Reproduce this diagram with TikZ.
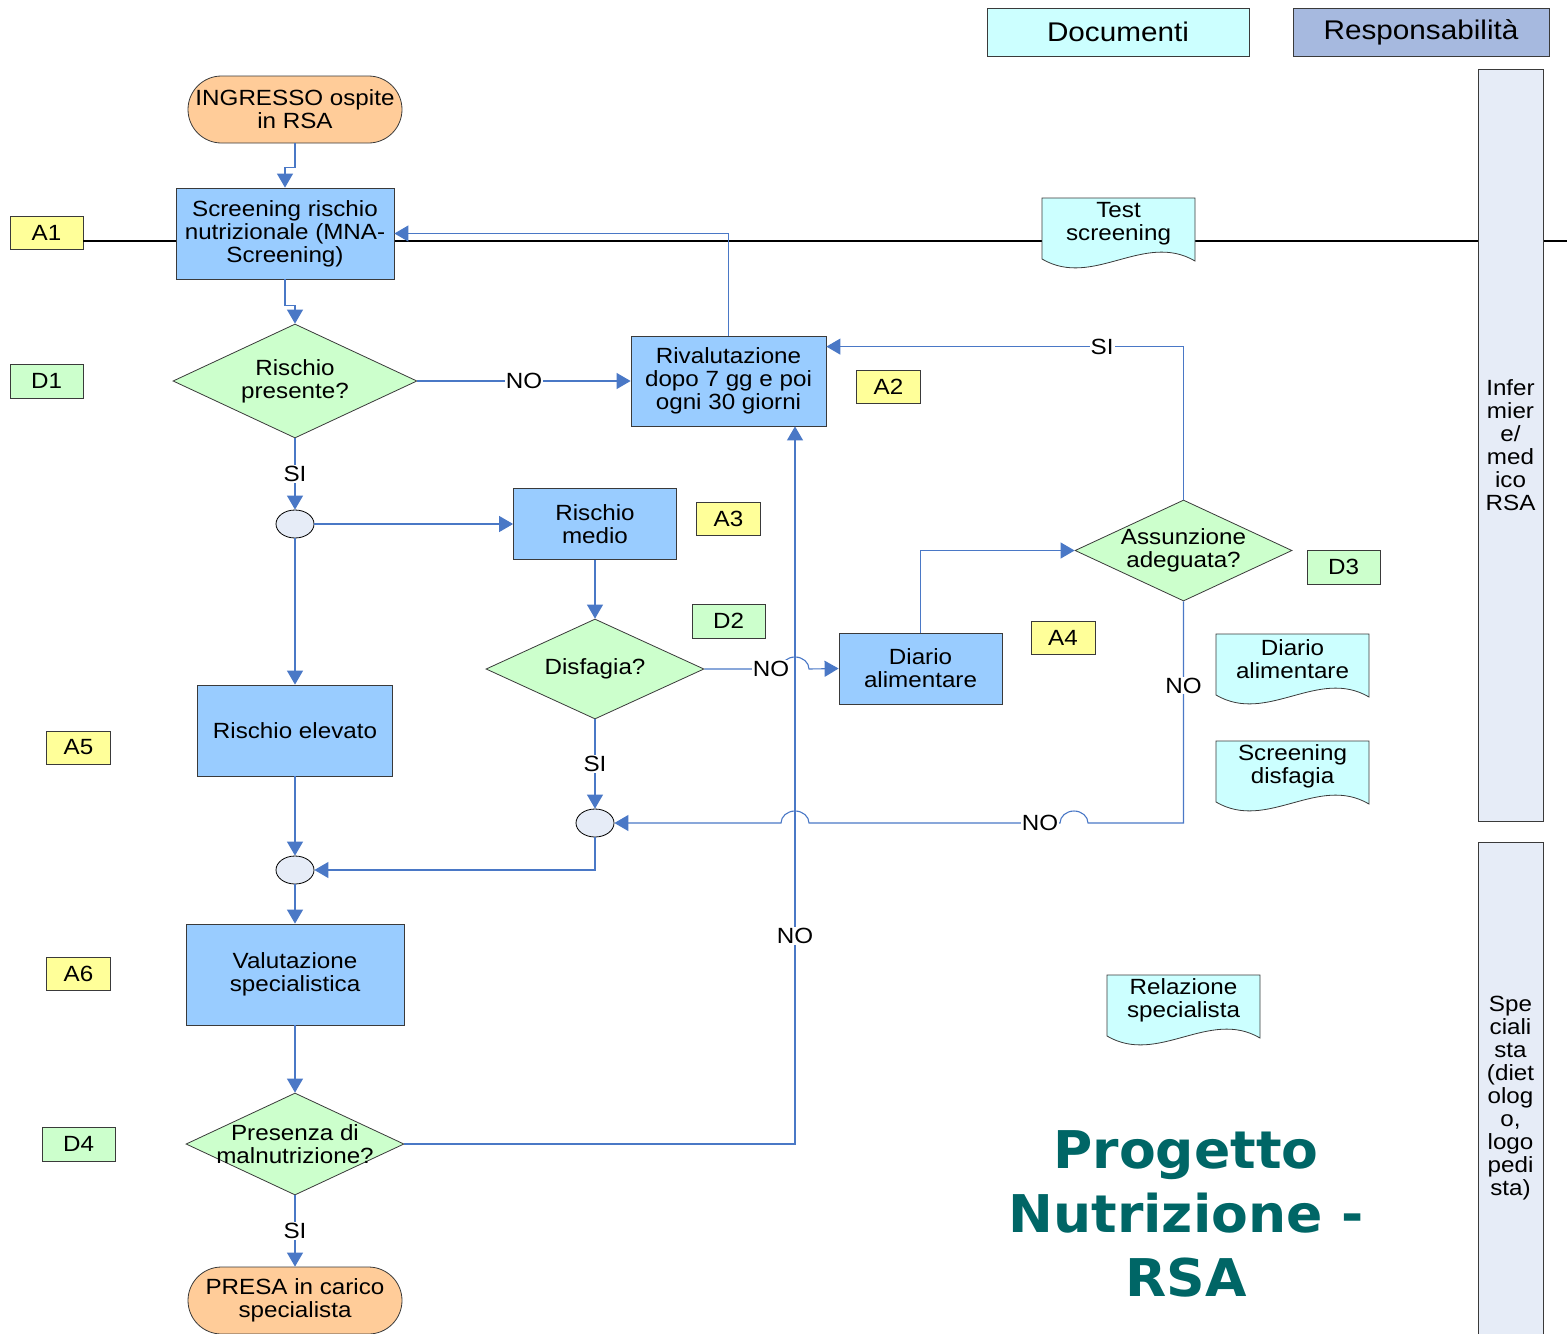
\documentclass[tikz,border=0pt]{standalone}
\usepackage{fontspec}
\setmainfont{Liberation Sans}[FakeStretch=1.1]
\newfontfamily\titlefont{DejaVu Sans}[FakeStretch=1.03]
\usetikzlibrary{shapes.geometric,shapes.misc,arrows.meta}
\definecolor{procblue}{HTML}{99CCFF}
\definecolor{termorange}{HTML}{FFCC99}
\definecolor{decgreen}{HTML}{CCFFCC}
\definecolor{tagyellow}{HTML}{FFFF99}
\definecolor{docfill}{HTML}{CCFFFF}
\definecolor{respblue}{HTML}{A6B9DF}
\definecolor{lanefill}{HTML}{E6ECF7}
\definecolor{flowblue}{HTML}{4A78C6}
\definecolor{titlegreen}{HTML}{006666}
\definecolor{boxline}{HTML}{3A3A3A}
\tikzset{
  % style for the text in every box
  txt/.style={font=\fontsize{11}{11.5}\selectfont, align=center},
  % style for the shapes of the flow chart
  proc/.style={txt, rectangle, draw=boxline, fill=procblue, inner sep=1pt},
  term/.style={txt, rounded rectangle, draw=boxline, fill=termorange,
    minimum width=109pt, minimum height=33.5pt, inner sep=1pt},
  decision/.style={diamond, draw=boxline, fill=decgreen, inner sep=0pt},
  junc/.style={ellipse, draw=black, fill=lanefill, minimum width=19pt,
    minimum height=14pt, inner sep=0pt},
  % style for the small tags on the side
  tagA/.style={txt, draw=boxline, fill=tagyellow, minimum width=32pt, minimum height=16.5pt, inner sep=1pt},
  tagD/.style={txt, draw=boxline, fill=decgreen, minimum width=36.5pt, minimum height=17pt, inner sep=1pt},
  % style for the documents and the lanes
  doctext/.style={txt, inner sep=0pt},
  docline/.style={draw=boxline, fill=docfill, line width=0.4pt},
  lane/.style={txt, draw=boxline, fill=lanefill, minimum width=32.5pt, inner sep=1pt},
  head/.style={font=\fontsize{13.5}{16}\selectfont, draw=boxline, minimum height=24pt},
  % style for the connectors and their labels
  flow/.style={draw=flowblue, line width=0.55pt, -{Triangle[length=7pt,width=8pt]}},
  edgelab/.style={txt, fill=white, inner sep=0.5pt},
}
% document shape with a wavy bottom
\newcommand{\docnode}[3]{%
  \draw[docline, shift={#2}] (-76.5,-25.5) -- (76.5,-25.5) -- (76.5,37.5)
    .. controls (25.5,7.5) and (-25.5,65.5) .. (-76.5,35.5) -- cycle;
  \node[doctext] (#1) at #2 {#3};
}

\begin{document}
\begin{tikzpicture}[x=0.5pt,y=-0.5pt]
\useasboundingbox (0,0) rectangle (1567,1333);

\node[tagA, minimum width=36.5pt] (a1) at (46.5,233) {A1};
\coordinate (lineend) at (1567,241);
\draw[black, line width=1pt] (a1.east |- lineend) -- (lineend);

% headers and lanes
\node[head, fill=docfill, minimum width=131pt] (hdoc) at (1118,32) {Documenti};
\node[head, fill=respblue, minimum width=128pt] (hresp) at (1421,32) {Responsabilità};
\node[lane, minimum height=376pt] (lane1) at (1510.5,445) {Infer\\mier\\e/\\med\\ico\\RSA};
\node[lane, minimum height=256.5pt] (lane2) at (1510.5,1098.5) {Spe\\ciali\\sta\\(diet\\olog\\o,\\logo\\pedi\\sta)};

% flow chart
\node[term] (start) at (295,109.5) {INGRESSO ospite\\in RSA};
\node[proc, minimum width=109pt, minimum height=45.5pt] (scr) at (285,233.5) {Screening rischio\\nutrizionale (MNA-\\Screening)};
\node[decision, minimum width=122pt, minimum height=57pt, label={[txt]center:Rischio\\presente?}] (d1) at (295,381) {};
\node[tagD] (dd1) at (46.5,381) {D1};
\node[proc, minimum width=97.5pt, minimum height=45pt] (riv) at (728.5,381) {Rivalutazione\\dopo 7 gg e poi\\ogni 30 giorni};
\node[tagA] (a2) at (888.5,386.5) {A2};
\node[junc] (j1) at (295,524) {};
\node[proc, minimum width=81.5pt, minimum height=35.5pt] (rm) at (595,524) {Rischio\\medio};
\node[tagA] (a3) at (728.5,518.5) {A3};
\node[tagD] (dd2) at (728.5,621) {D2};
\node[decision, minimum width=109pt, minimum height=50pt, label={[txt]center:Disfagia?}] (dis) at (595,669) {};
\node[proc, minimum width=81.5pt, minimum height=35.5pt] (dia) at (920.5,668.5) {Diario\\alimentare};
\node[tagA] (a4) at (1063,638) {A4};
\node[decision, minimum width=108.5pt, minimum height=50.5pt, label={[txt]center:Assunzione\\adeguata?}] (ass) at (1183.5,550.5) {};
\node[tagD] (dd3) at (1343.5,567) {D3};
\node[proc, minimum width=97.5pt, minimum height=45.5pt] (rel) at (295,730.5) {Rischio elevato};
\node[tagA] (a5) at (78.5,747.5) {A5};
\node[junc] (j2) at (595,823) {};
\node[junc] (j3) at (295,870) {};
\node[proc, minimum width=109pt, minimum height=50.5pt] (val) at (295,974.5) {Valutazione\\specialistica};
\node[tagA] (a6) at (78.5,973.5) {A6};
\node[decision, minimum width=109pt, minimum height=51pt, label={[txt]center:Presenza di\\malnutrizione?}] (pres) at (295,1144) {};
\node[tagD] (dd4) at (78.5,1144) {D4};
\node[term] (fin) at (295,1300.5) {PRESA in carico\\specialista};

% documents
\docnode{dtest}{(1118.5,223.5)}{Test\\screening}
\docnode{ddiario}{(1292.5,659.5)}{Diario\\alimentare}
\docnode{ddisf}{(1292.5,766.5)}{Screening\\disfagia}
\docnode{drel}{(1183.5,1000.5)}{Relazione\\specialista}

\node[font=\titlefont\bfseries\fontsize{26}{32}\selectfont, text=titlegreen, align=center] (title) at (1186,1214) {Progetto\\Nutrizione -\\RSA};

% connectors
\coordinate (vx) at (795,0);
\draw[flow] (start.south) -- ++(0,24) -| (scr.north);
\draw[flow] (scr.south) -- ++(0,26) -| (d1.north);
\draw[flow] (d1.east) -- node[edgelab]{NO} (riv.west);
\draw[flow] (riv.north) |- (scr.east);
\draw[flow] (d1.south) -- node[edgelab]{SI} (j1.north);
\draw[flow] (j1.east) -- (rm.west);
\draw[flow] (j1.south) -- (rel.north);
\draw[flow] (rm.south) -- (dis.north);
\draw[flow] (dis.east) -- node[edgelab, pos=0.87]{NO} ([xshift=-7pt]dis.east -| vx)
  arc[start angle=180, end angle=0, x radius=7pt, y radius=6pt] -- (dia.west);
\draw[flow] (dia.north) |- (ass.west);
\draw[flow] (ass.north) |- node[edgelab, pos=0.614]{SI} ([yshift=-5.5pt]riv.north east);
\draw[flow] (ass.south) -- node[edgelab, pos=0.38]{NO} (ass.south |- j2.east) -- ++(-95.5,0)
  arc[start angle=0, end angle=180, x radius=7pt, y radius=6pt]
  -- node[edgelab, pos=0.08]{NO} ([xshift=7pt]vx |- j2.east)
  arc[start angle=0, end angle=180, x radius=7pt, y radius=6pt] -- (j2.east);
\draw[flow] (dis.south) -- node[edgelab]{SI} (j2.north);
\draw[flow] (j2.south) |- (j3.east);
\draw[flow] (rel.south) -- (j3.north);
\draw[flow] (j3.south) -- (val.north);
\draw[flow] (val.south) -- (pres.north);
\draw[flow] (pres.south) -- node[edgelab]{SI} (fin.north);
\draw[flow] (pres.east) -| node[edgelab, pos=0.645]{NO} (riv.south -| vx);
\end{tikzpicture}
\end{document}
